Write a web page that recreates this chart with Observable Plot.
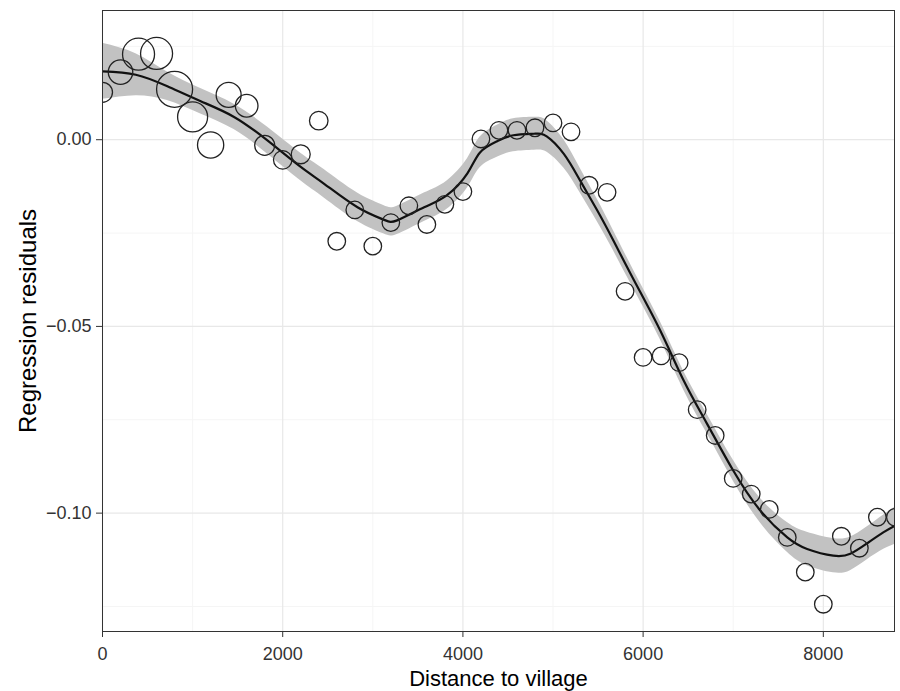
<!DOCTYPE html>
<html>
<head>
<meta charset="utf-8">
<script src="https://cdn.jsdelivr.net/npm/d3@7"></script>
<script src="https://cdn.jsdelivr.net/npm/@observablehq/plot@0.6"></script>
<style>
  html, body { margin: 0; padding: 0; background: #fff; }
</style>
</head>
<body>
<div id="chart"></div>
<script>
// Observed points: distance to village, regression residual, weight (point size)
const distance = [0, 200, 400, 600, 800, 1000, 1200, 1400, 1600, 1800,
  2000, 2200, 2400, 2600, 2800, 3000, 3200, 3400, 3600, 3800,
  4000, 4200, 4400, 4600, 4800, 5000, 5200, 5400, 5600, 5800,
  6000, 6200, 6400, 6600, 6800, 7000, 7200, 7400, 7600, 7800,
  8000, 8200, 8400, 8600, 8800];
const residual = [0.0127, 0.0181, 0.0229, 0.0231, 0.0135, 0.0061, -0.0014, 0.0120, 0.0091, -0.0015,
  -0.0054, -0.0039, 0.0051, -0.0272, -0.0188, -0.0285, -0.0222, -0.0177, -0.0227, -0.0173,
  -0.0139, 0.0002, 0.0025, 0.0025, 0.0032, 0.0045, 0.0021, -0.0122, -0.0141, -0.0406,
  -0.0583, -0.0579, -0.0597, -0.0723, -0.0792, -0.0907, -0.0949, -0.0990, -0.1065, -0.1158,
  -0.1244, -0.1062, -0.1094, -0.1011, -0.1011];
const weight = [100, 150, 256, 256, 324, 225, 172, 156, 128, 100,
  85, 90, 86, 77, 77, 77, 77, 77, 77, 77,
  77, 77, 77, 77, 77, 77, 77, 77, 77, 77,
  77, 77, 77, 77, 77, 77, 77, 77, 77, 77,
  77, 77, 77, 77, 77];

// Smoothed fit, with its confidence half-width
const smoothX = [0, 370, 720, 1090, 1460, 1830, 2200, 2460, 2830, 3120, 3270, 3570, 3820, 4050, 4190, 4380, 4560, 4790, 4930, 5120,
  5300, 5490, 5670, 5900, 6190, 6450, 6710, 7000, 7300, 7600, 7820, 8110, 8300, 8480, 8670, 8800];
const smoothY = [0.0183, 0.0174, 0.0143, 0.0103, 0.0061, -0.0002, -0.0073, -0.0118, -0.0181, -0.0214, -0.0216, -0.0181, -0.0149, -0.0090, -0.0034, -0.0004, 0.0012, 0.0016, 0.0009, -0.0038,
  -0.0109, -0.0189, -0.0270, -0.0377, -0.0511, -0.0645, -0.0761, -0.0886, -0.0993, -0.1065, -0.1096, -0.1114, -0.1109, -0.1082, -0.1051, -0.1033];
const smoothHalf = [0.0075, 0.0056, 0.0038, 0.0034, 0.0034, 0.0036, 0.0037, 0.0038, 0.0038, 0.0038, 0.0038, 0.0038, 0.0038, 0.0039, 0.0041, 0.0043, 0.0044, 0.0044, 0.0042, 0.0038,
  0.0033, 0.0030, 0.0027, 0.0025, 0.0024, 0.0025, 0.0026, 0.0028, 0.0033, 0.0040, 0.0045, 0.0046, 0.0045, 0.0044, 0.0046, 0.0050];

// Axis ticks and titles
const xTicks = [0, 2000, 4000, 6000, 8000];
const xMinor = [1000, 3000, 5000, 7000];
const yTicks = [0, -0.05, -0.10];
const yMinor = [0.025, -0.025, -0.075, -0.125];
const xTitle = "Distance to village";
const yTitle = "Regression residuals";

const points = distance.map((d, i) => ({x: d, y: residual[i], w: weight[i]}));
const smooth = smoothX.map((d, i) => ({x: d, y: smoothY[i], lo: smoothY[i] - smoothHalf[i], hi: smoothY[i] + smoothHalf[i]}));

const chart = Plot.plot({
  width: 900,
  height: 691,
  marginLeft: 102,
  marginRight: 6,
  marginTop: 10,
  marginBottom: 60,
  style: {fontFamily: "'Liberation Sans', Arial, Helvetica, sans-serif", background: "#fff"},
  x: {domain: [0, 8790]},
  y: {domain: [-0.1317, 0.0346]},
  r: {type: "sqrt", domain: [0, 324], range: [0, 18]},
  marks: [
    Plot.gridX(xMinor, {stroke: "#f5f5f5", strokeOpacity: 1}),
    Plot.gridY(yMinor, {stroke: "#f5f5f5", strokeOpacity: 1}),
    Plot.gridX(xTicks, {stroke: "#e8e8e8", strokeOpacity: 1, strokeWidth: 1.2}),
    Plot.gridY(yTicks, {stroke: "#e8e8e8", strokeOpacity: 1, strokeWidth: 1.2}),
    Plot.areaY(smooth, {x: "x", y1: "lo", y2: "hi", fill: "#c2c2c2", curve: "natural", clip: true}),
    Plot.line(smooth, {x: "x", y: "y", stroke: "#111", strokeWidth: 2.2, curve: "natural", clip: true}),
    Plot.dot(points, {x: "x", y: "y", r: "w", stroke: "#222", strokeWidth: 1.3, fill: "none", clip: true}),
    Plot.frame({stroke: "#333"}),
    Plot.axisX(xTicks, {tickSize: 6, tickPadding: 10, fontSize: 18, color: "#333", label: null, tickFormat: d3.format("d")}),
    Plot.axisY(yTicks, {tickSize: 6, tickPadding: 5, fontSize: 18, color: "#333", label: null, tickFormat: d3.format(".2f")}),
    Plot.text([xTitle], {frameAnchor: "bottom", lineAnchor: "middle", dy: 47, fontSize: 22, fill: "#000"}),
    Plot.text([yTitle], {frameAnchor: "left", lineAnchor: "middle", textAnchor: "middle", rotate: -90, dx: -74, fontSize: 24, fill: "#000"})
  ]
});
document.getElementById("chart").appendChild(chart);
</script>
</body>
</html>
